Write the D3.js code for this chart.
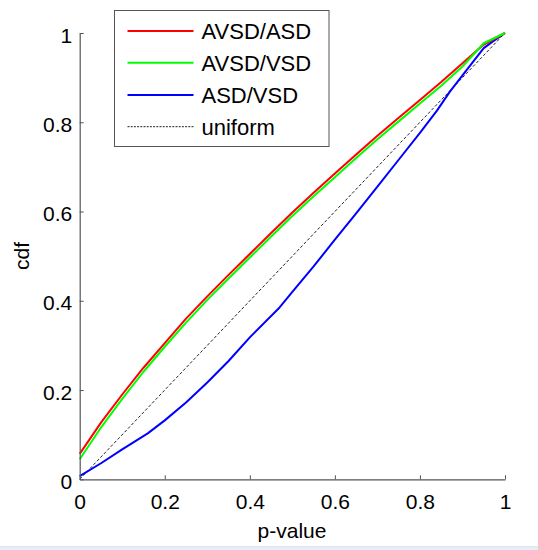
<!DOCTYPE html>
<html>
<head>
<meta charset="utf-8">
<script src="https://cdn.jsdelivr.net/npm/d3@7"></script>
<style>
html,body{margin:0;padding:0;background:#fff;}
svg{display:block;}
text{font-family:"Liberation Sans",Arial,Helvetica,sans-serif;fill:#000;}
</style>
</head>
<body>
<script>
// ---- data ----
const seriesNames = ["AVSD/ASD", "AVSD/VSD", "ASD/VSD", "uniform"];
const seriesColors = ["#ff0000", "#00ff00", "#0000ff", "#000000"];
const xAvsd = [0,0.05,0.1,0.15,0.2,0.25,0.3,0.35,0.4,0.45,0.5,0.55,0.6,0.65,0.7,0.75,0.8,0.85,0.9,0.95,1];
const cdfAvsdAsd = [0.057,0.127,0.19,0.25,0.305,0.36,0.41,0.458,0.505,0.552,0.598,0.642,0.685,0.728,0.77,0.81,0.85,0.89,0.932,0.974,1];
const cdfAvsdVsd = [0.045,0.116,0.18,0.241,0.297,0.351,0.402,0.45,0.497,0.544,0.59,0.634,0.677,0.72,0.762,0.802,0.842,0.882,0.925,0.977,1];
const xAsdVsd = [0,0.05,0.1,0.16,0.2,0.25,0.3,0.35,0.4,0.47,0.5,0.55,0.6,0.65,0.7,0.75,0.8,0.84,0.87,0.9,0.95,0.97,1];
const cdfAsdVsd = [0.007,0.036,0.067,0.103,0.132,0.172,0.217,0.265,0.318,0.385,0.42,0.477,0.537,0.596,0.656,0.716,0.776,0.826,0.868,0.905,0.966,0.98,1];
const xUniform = [0,1];
const cdfUniform = [0,1];
const xTicks = [0,0.2,0.4,0.6,0.8,1];
const xTickLabels = ["0","0.2","0.4","0.6","0.8","1"];
const yTicks = [0,0.2,0.4,0.6,0.8,1];
const yTickLabels = ["0","0.2","0.4","0.6","0.8","1"];

// ---- chart ----
const W = 538, H = 550;
const svg = d3.select("body").append("svg").attr("width", W).attr("height", H);

const x = d3.scaleLinear().domain([0,1]).range([79.7,505]);
const y = d3.scaleLinear().domain([0,1]).range([479.3,33]);
const fs = 21;

// bottom strip
svg.append("rect").attr("x",0).attr("y",546).attr("width",W).attr("height",4).attr("fill","#e6eef9");
svg.append("line").attr("x1",0).attr("x2",W).attr("y1",546.5).attr("y2",546.5).attr("stroke","#dbe5f3");

// curves
const line = d3.line().x(d=>x(d[0])).y(d=>y(d[1]));
const series = [
  {xs: xUniform, ys: cdfUniform, color: "#222", w: 1, dash: "3,2"},
  {xs: xAsdVsd, ys: cdfAsdVsd, color: seriesColors[2], w: 2},
  {xs: xAvsd, ys: cdfAvsdVsd, color: seriesColors[1], w: 2},
  {xs: xAvsd, ys: cdfAvsdAsd, color: seriesColors[0], w: 2}
];
const order = [0,1,3,2];
order.forEach(i=>{
  const s = series[i];
  svg.append("path")
    .attr("d", line(s.xs.map((v,j)=>[v, s.ys[j]])))
    .attr("fill","none")
    .attr("stroke", s.color)
    .attr("stroke-width", s.w)
    .attr("stroke-dasharray", s.dash || null)
    .attr("stroke-linejoin","round");
});

// axes
const axisColor = "#555";
const xAxis = d3.axisBottom(x).tickValues(xTicks).tickFormat((d,i)=>xTickLabels[i]).tickSizeInner(-4).tickSizeOuter(0).tickPadding(12);
const gx = svg.append("g").attr("transform","translate(0,479.3)").call(xAxis);
gx.selectAll("path.domain").attr("stroke",axisColor).attr("stroke-width",1.2);
gx.selectAll(".tick line").attr("stroke",axisColor);
gx.selectAll(".tick text").attr("font-size",fs).attr("dy",null).attr("y",30).style("font-family","'Liberation Sans',Arial,sans-serif");

const yAxis = d3.axisLeft(y).tickValues(yTicks).tickFormat((d,i)=>yTickLabels[i]).tickSizeInner(-4).tickSizeOuter(0).tickPadding(8);
const gy = svg.append("g").attr("transform","translate(79.7,0)").call(yAxis);
gy.selectAll("path.domain").attr("stroke",axisColor).attr("stroke-width",1.2);
gy.selectAll(".tick line").attr("stroke",axisColor);
gy.selectAll(".tick text").attr("font-size",fs).attr("dy",null).attr("y",9).attr("x",-7.5).style("font-family","'Liberation Sans',Arial,sans-serif");

// axis titles
svg.append("text").attr("x",292).attr("y",538).attr("text-anchor","middle").attr("font-size",fs).text("p-value");
svg.append("text").attr("transform","translate(29,256) rotate(-90)").attr("text-anchor","middle").attr("font-size",fs).text("cdf");

// legend
const lg = svg.append("g");
lg.append("rect").attr("x",114.5).attr("y",10.5).attr("width",214.5).attr("height",136)
  .attr("fill","#fff").attr("stroke","#555").attr("stroke-width",1);
const rowY = [31, 62.7, 95, 126.7];
const legendStyles = [
  {color: seriesColors[0], w: 2},
  {color: seriesColors[1], w: 2},
  {color: seriesColors[2], w: 2},
  {color: "#222", w: 1, dash: "2,1.2"}
];
seriesNames.forEach((name,i)=>{
  const st = legendStyles[i];
  lg.append("line").attr("x1",127.5).attr("x2",193.5).attr("y1",rowY[i]).attr("y2",rowY[i])
    .attr("stroke",st.color).attr("stroke-width",st.w).attr("stroke-dasharray",st.dash||null);
  lg.append("text").attr("x",201.5).attr("y",rowY[i]+7.8).attr("font-size",22).text(name);
});
</script>
</body>
</html>
